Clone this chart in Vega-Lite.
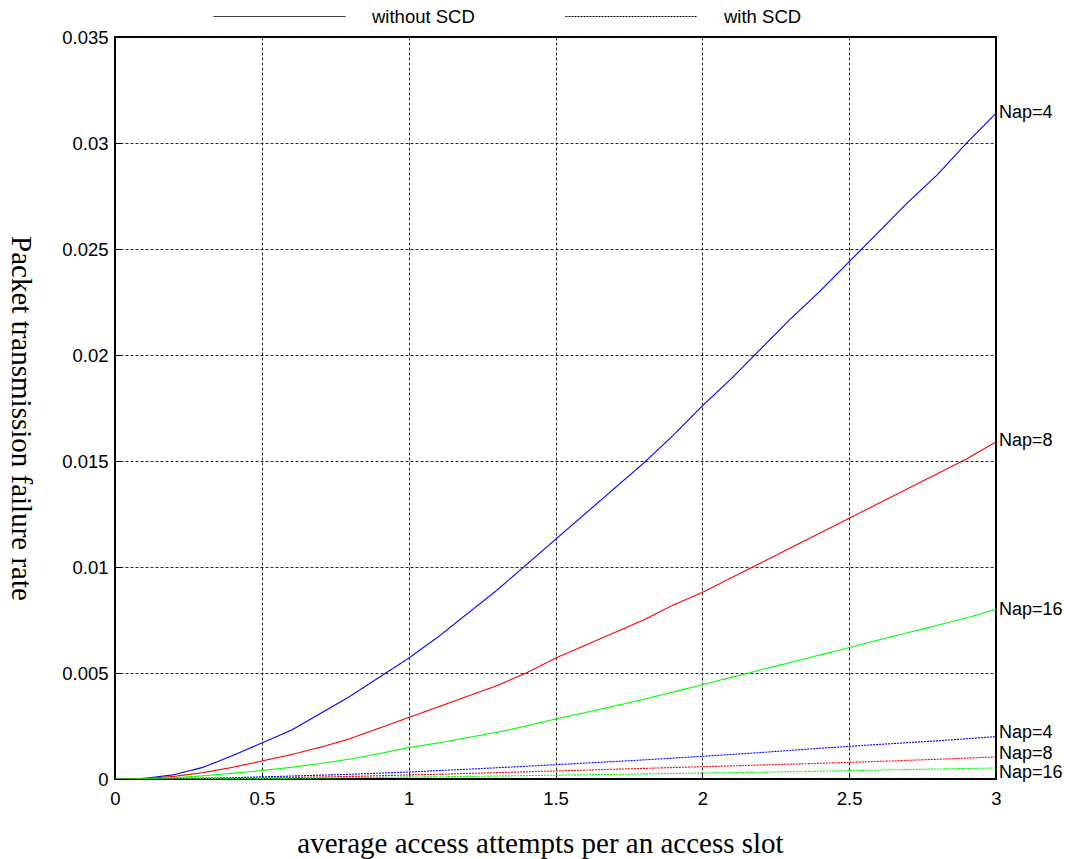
{
  "$schema": "https://vega.github.io/schema/vega-lite/v6.json",
  "autosize": {"type": "none"},
  "width": 881,
  "height": 742,
  "padding": {"left": 115, "top": 37, "right": 74, "bottom": 80},
  "background": "white",
  "config": {
    "view": {"stroke": "black", "strokeWidth": 2},
    "font": "Liberation Sans",
    "axis": {
      "domain": false,
      "grid": true,
      "gridColor": "#111111",
      "gridDash": [3, 2],
      "gridWidth": 1,
      "gridOpacity": 0.9,
      "ticks": true,
      "tickSize": -6,
      "tickColor": "black",
      "tickWidth": 1,
      "labelFlush": false,
      "labelFont": "Liberation Sans",
      "labelFontSize": 18.5,
      "labelColor": "black",
      "titleFont": "Liberation Serif",
      "titleFontSize": 29,
      "titleFontWeight": "normal",
      "titleColor": "black"
    }
  },
  "datasets": {
    "curves": [
      {"x": 0, "y": 0, "nap": "4", "scd": "without SCD"},
      {"x": 0.1, "y": 0.00003, "nap": "4", "scd": "without SCD"},
      {"x": 0.2, "y": 0.0002, "nap": "4", "scd": "without SCD"},
      {"x": 0.3, "y": 0.00055, "nap": "4", "scd": "without SCD"},
      {"x": 0.4, "y": 0.0011, "nap": "4", "scd": "without SCD"},
      {"x": 0.5, "y": 0.0017, "nap": "4", "scd": "without SCD"},
      {"x": 0.6, "y": 0.0023, "nap": "4", "scd": "without SCD"},
      {"x": 0.7, "y": 0.0031, "nap": "4", "scd": "without SCD"},
      {"x": 0.8, "y": 0.0039, "nap": "4", "scd": "without SCD"},
      {"x": 0.9, "y": 0.0048, "nap": "4", "scd": "without SCD"},
      {"x": 1.0, "y": 0.0057, "nap": "4", "scd": "without SCD"},
      {"x": 1.1, "y": 0.0067, "nap": "4", "scd": "without SCD"},
      {"x": 1.2, "y": 0.0078, "nap": "4", "scd": "without SCD"},
      {"x": 1.3, "y": 0.0089, "nap": "4", "scd": "without SCD"},
      {"x": 1.4, "y": 0.0101, "nap": "4", "scd": "without SCD"},
      {"x": 1.5, "y": 0.0113, "nap": "4", "scd": "without SCD"},
      {"x": 1.6, "y": 0.0125, "nap": "4", "scd": "without SCD"},
      {"x": 1.7, "y": 0.0137, "nap": "4", "scd": "without SCD"},
      {"x": 1.8, "y": 0.0149, "nap": "4", "scd": "without SCD"},
      {"x": 1.9, "y": 0.0162, "nap": "4", "scd": "without SCD"},
      {"x": 2.0, "y": 0.0176, "nap": "4", "scd": "without SCD"},
      {"x": 2.1, "y": 0.0189, "nap": "4", "scd": "without SCD"},
      {"x": 2.2, "y": 0.0203, "nap": "4", "scd": "without SCD"},
      {"x": 2.3, "y": 0.0217, "nap": "4", "scd": "without SCD"},
      {"x": 2.4, "y": 0.0230, "nap": "4", "scd": "without SCD"},
      {"x": 2.5, "y": 0.0244, "nap": "4", "scd": "without SCD"},
      {"x": 2.6, "y": 0.0258, "nap": "4", "scd": "without SCD"},
      {"x": 2.7, "y": 0.0272, "nap": "4", "scd": "without SCD"},
      {"x": 2.8, "y": 0.0285, "nap": "4", "scd": "without SCD"},
      {"x": 2.9, "y": 0.0300, "nap": "4", "scd": "without SCD"},
      {"x": 3.0, "y": 0.0314, "nap": "4", "scd": "without SCD"},

      {"x": 0, "y": 0, "nap": "8", "scd": "without SCD"},
      {"x": 0.1, "y": 0.00002, "nap": "8", "scd": "without SCD"},
      {"x": 0.2, "y": 0.00012, "nap": "8", "scd": "without SCD"},
      {"x": 0.3, "y": 0.0003, "nap": "8", "scd": "without SCD"},
      {"x": 0.4, "y": 0.00055, "nap": "8", "scd": "without SCD"},
      {"x": 0.5, "y": 0.00085, "nap": "8", "scd": "without SCD"},
      {"x": 0.6, "y": 0.00115, "nap": "8", "scd": "without SCD"},
      {"x": 0.7, "y": 0.0015, "nap": "8", "scd": "without SCD"},
      {"x": 0.8, "y": 0.0019, "nap": "8", "scd": "without SCD"},
      {"x": 0.9, "y": 0.0024, "nap": "8", "scd": "without SCD"},
      {"x": 1.0, "y": 0.0029, "nap": "8", "scd": "without SCD"},
      {"x": 1.1, "y": 0.0034, "nap": "8", "scd": "without SCD"},
      {"x": 1.2, "y": 0.0039, "nap": "8", "scd": "without SCD"},
      {"x": 1.3, "y": 0.0044, "nap": "8", "scd": "without SCD"},
      {"x": 1.4, "y": 0.0050, "nap": "8", "scd": "without SCD"},
      {"x": 1.5, "y": 0.0057, "nap": "8", "scd": "without SCD"},
      {"x": 1.6, "y": 0.0063, "nap": "8", "scd": "without SCD"},
      {"x": 1.7, "y": 0.0069, "nap": "8", "scd": "without SCD"},
      {"x": 1.8, "y": 0.0075, "nap": "8", "scd": "without SCD"},
      {"x": 1.9, "y": 0.0082, "nap": "8", "scd": "without SCD"},
      {"x": 2.0, "y": 0.0088, "nap": "8", "scd": "without SCD"},
      {"x": 2.1, "y": 0.0095, "nap": "8", "scd": "without SCD"},
      {"x": 2.2, "y": 0.0102, "nap": "8", "scd": "without SCD"},
      {"x": 2.3, "y": 0.0109, "nap": "8", "scd": "without SCD"},
      {"x": 2.4, "y": 0.0116, "nap": "8", "scd": "without SCD"},
      {"x": 2.5, "y": 0.0123, "nap": "8", "scd": "without SCD"},
      {"x": 2.6, "y": 0.0130, "nap": "8", "scd": "without SCD"},
      {"x": 2.7, "y": 0.0137, "nap": "8", "scd": "without SCD"},
      {"x": 2.8, "y": 0.0144, "nap": "8", "scd": "without SCD"},
      {"x": 2.9, "y": 0.0151, "nap": "8", "scd": "without SCD"},
      {"x": 3.0, "y": 0.0159, "nap": "8", "scd": "without SCD"},

      {"x": 0, "y": 0, "nap": "16", "scd": "without SCD"},
      {"x": 0.1, "y": 0.00001, "nap": "16", "scd": "without SCD"},
      {"x": 0.2, "y": 0.00006, "nap": "16", "scd": "without SCD"},
      {"x": 0.3, "y": 0.00015, "nap": "16", "scd": "without SCD"},
      {"x": 0.4, "y": 0.00027, "nap": "16", "scd": "without SCD"},
      {"x": 0.5, "y": 0.0004, "nap": "16", "scd": "without SCD"},
      {"x": 0.6, "y": 0.00055, "nap": "16", "scd": "without SCD"},
      {"x": 0.7, "y": 0.00073, "nap": "16", "scd": "without SCD"},
      {"x": 0.8, "y": 0.00094, "nap": "16", "scd": "without SCD"},
      {"x": 0.9, "y": 0.0012, "nap": "16", "scd": "without SCD"},
      {"x": 1.0, "y": 0.00148, "nap": "16", "scd": "without SCD"},
      {"x": 1.1, "y": 0.0017, "nap": "16", "scd": "without SCD"},
      {"x": 1.2, "y": 0.00195, "nap": "16", "scd": "without SCD"},
      {"x": 1.3, "y": 0.0022, "nap": "16", "scd": "without SCD"},
      {"x": 1.4, "y": 0.0025, "nap": "16", "scd": "without SCD"},
      {"x": 1.5, "y": 0.00283, "nap": "16", "scd": "without SCD"},
      {"x": 1.6, "y": 0.00313, "nap": "16", "scd": "without SCD"},
      {"x": 1.7, "y": 0.00344, "nap": "16", "scd": "without SCD"},
      {"x": 1.8, "y": 0.00376, "nap": "16", "scd": "without SCD"},
      {"x": 1.9, "y": 0.0041, "nap": "16", "scd": "without SCD"},
      {"x": 2.0, "y": 0.00445, "nap": "16", "scd": "without SCD"},
      {"x": 2.1, "y": 0.0048, "nap": "16", "scd": "without SCD"},
      {"x": 2.2, "y": 0.00515, "nap": "16", "scd": "without SCD"},
      {"x": 2.3, "y": 0.0055, "nap": "16", "scd": "without SCD"},
      {"x": 2.4, "y": 0.00585, "nap": "16", "scd": "without SCD"},
      {"x": 2.5, "y": 0.0062, "nap": "16", "scd": "without SCD"},
      {"x": 2.6, "y": 0.00656, "nap": "16", "scd": "without SCD"},
      {"x": 2.7, "y": 0.0069, "nap": "16", "scd": "without SCD"},
      {"x": 2.8, "y": 0.00725, "nap": "16", "scd": "without SCD"},
      {"x": 2.9, "y": 0.0076, "nap": "16", "scd": "without SCD"},
      {"x": 3.0, "y": 0.0080, "nap": "16", "scd": "without SCD"},

      {"x": 0, "y": 0, "nap": "4", "scd": "with SCD"},
      {"x": 0.2, "y": 0.00002, "nap": "4", "scd": "with SCD"},
      {"x": 0.4, "y": 0.00006, "nap": "4", "scd": "with SCD"},
      {"x": 0.6, "y": 0.00014, "nap": "4", "scd": "with SCD"},
      {"x": 0.8, "y": 0.00022, "nap": "4", "scd": "with SCD"},
      {"x": 1.0, "y": 0.00033, "nap": "4", "scd": "with SCD"},
      {"x": 1.2, "y": 0.00046, "nap": "4", "scd": "with SCD"},
      {"x": 1.4, "y": 0.0006, "nap": "4", "scd": "with SCD"},
      {"x": 1.6, "y": 0.00075, "nap": "4", "scd": "with SCD"},
      {"x": 1.8, "y": 0.0009, "nap": "4", "scd": "with SCD"},
      {"x": 2.0, "y": 0.00107, "nap": "4", "scd": "with SCD"},
      {"x": 2.2, "y": 0.00125, "nap": "4", "scd": "with SCD"},
      {"x": 2.4, "y": 0.00145, "nap": "4", "scd": "with SCD"},
      {"x": 2.6, "y": 0.00163, "nap": "4", "scd": "with SCD"},
      {"x": 2.8, "y": 0.0018, "nap": "4", "scd": "with SCD"},
      {"x": 3.0, "y": 0.0020, "nap": "4", "scd": "with SCD"},

      {"x": 0, "y": 0, "nap": "8", "scd": "with SCD"},
      {"x": 0.2, "y": 0.00001, "nap": "8", "scd": "with SCD"},
      {"x": 0.4, "y": 0.00003, "nap": "8", "scd": "with SCD"},
      {"x": 0.6, "y": 0.00007, "nap": "8", "scd": "with SCD"},
      {"x": 0.8, "y": 0.00012, "nap": "8", "scd": "with SCD"},
      {"x": 1.0, "y": 0.00019, "nap": "8", "scd": "with SCD"},
      {"x": 1.2, "y": 0.00026, "nap": "8", "scd": "with SCD"},
      {"x": 1.4, "y": 0.00034, "nap": "8", "scd": "with SCD"},
      {"x": 1.6, "y": 0.00042, "nap": "8", "scd": "with SCD"},
      {"x": 1.8, "y": 0.0005, "nap": "8", "scd": "with SCD"},
      {"x": 2.0, "y": 0.00058, "nap": "8", "scd": "with SCD"},
      {"x": 2.2, "y": 0.00066, "nap": "8", "scd": "with SCD"},
      {"x": 2.4, "y": 0.00074, "nap": "8", "scd": "with SCD"},
      {"x": 2.6, "y": 0.00083, "nap": "8", "scd": "with SCD"},
      {"x": 2.8, "y": 0.00093, "nap": "8", "scd": "with SCD"},
      {"x": 3.0, "y": 0.00104, "nap": "8", "scd": "with SCD"},

      {"x": 0, "y": 0, "nap": "16", "scd": "with SCD"},
      {"x": 0.4, "y": 0.00002, "nap": "16", "scd": "with SCD"},
      {"x": 0.6, "y": 0.00003, "nap": "16", "scd": "with SCD"},
      {"x": 0.8, "y": 0.00006, "nap": "16", "scd": "with SCD"},
      {"x": 1.0, "y": 0.00009, "nap": "16", "scd": "with SCD"},
      {"x": 1.2, "y": 0.00012, "nap": "16", "scd": "with SCD"},
      {"x": 1.4, "y": 0.00016, "nap": "16", "scd": "with SCD"},
      {"x": 1.6, "y": 0.0002, "nap": "16", "scd": "with SCD"},
      {"x": 1.8, "y": 0.00024, "nap": "16", "scd": "with SCD"},
      {"x": 2.0, "y": 0.00028, "nap": "16", "scd": "with SCD"},
      {"x": 2.2, "y": 0.00032, "nap": "16", "scd": "with SCD"},
      {"x": 2.4, "y": 0.00037, "nap": "16", "scd": "with SCD"},
      {"x": 2.6, "y": 0.00042, "nap": "16", "scd": "with SCD"},
      {"x": 2.8, "y": 0.00047, "nap": "16", "scd": "with SCD"},
      {"x": 3.0, "y": 0.00052, "nap": "16", "scd": "with SCD"}
    ],
    "labels": [
      {"x": 3, "y": 0.0314, "label": "Nap=4"},
      {"x": 3, "y": 0.01594, "label": "Nap=8"},
      {"x": 3, "y": 0.00797, "label": "Nap=16"},
      {"x": 3, "y": 0.00217, "label": "Nap=4"},
      {"x": 3, "y": 0.00118, "label": "Nap=8"},
      {"x": 3, "y": 0.00028, "label": "Nap=16"}
    ]
  },
  "layer": [
    {
      "data": {"name": "curves"},
      "mark": {"type": "line", "strokeWidth": 1.1, "clip": true},
      "encoding": {
        "x": {
          "field": "x", "type": "quantitative",
          "scale": {"domain": [0, 3], "nice": false, "zero": false},
          "axis": {
            "title": "average access attempts per an access slot",
            "values": [0, 0.5, 1, 1.5, 2, 2.5, 3],
            "labelExpr": "'' + datum.value",
            "labelPadding": 16,
            "titleX": 425,
            "titleY": 64,
            "titleBaseline": "middle",
            "titleAnchor": "middle",
            "titleAlign": "center"
          }
        },
        "y": {
          "field": "y", "type": "quantitative",
          "scale": {"domain": [0, 0.035], "nice": false},
          "axis": {
            "title": "Packet transmission failure rate",
            "values": [0, 0.005, 0.01, 0.015, 0.02, 0.025, 0.03, 0.035],
            "labelExpr": "'' + datum.value",
            "labelPadding": 13,
            "titleAngle": 90,
            "titleX": -95,
            "titleY": 381,
            "titleBaseline": "middle",
            "titleAlign": "center"
          }
        },
        "color": {
          "field": "nap", "type": "nominal",
          "scale": {"domain": ["4", "8", "16"], "range": ["#0000ff", "#ff0000", "#00ff00"]},
          "legend": null
        },
        "strokeDash": {
          "field": "scd", "type": "nominal",
          "scale": {"domain": ["without SCD", "with SCD"], "range": [[1, 0], [2, 1]]},
          "legend": {
            "title": null,
            "orient": "none",
            "direction": "horizontal",
            "legendX": 98,
            "legendY": -87,
            "symbolType": "stroke",
            "symbolSize": 17424,
            "symbolStrokeColor": "black",
            "symbolStrokeWidth": 1,
            "labelFont": "Liberation Sans",
            "labelFontSize": 18.5,
            "labelColor": "black",
            "labelOffset": 26,
            "columnPadding": 88
          }
        }
      }
    },
    {
      "data": {"name": "labels"},
      "mark": {"type": "text", "align": "left", "baseline": "middle", "dx": 3, "fontSize": 18, "font": "Liberation Sans", "color": "black", "clip": false},
      "encoding": {
        "x": {"field": "x", "type": "quantitative"},
        "y": {"field": "y", "type": "quantitative"},
        "text": {"field": "label"}
      }
    }
  ]
}
